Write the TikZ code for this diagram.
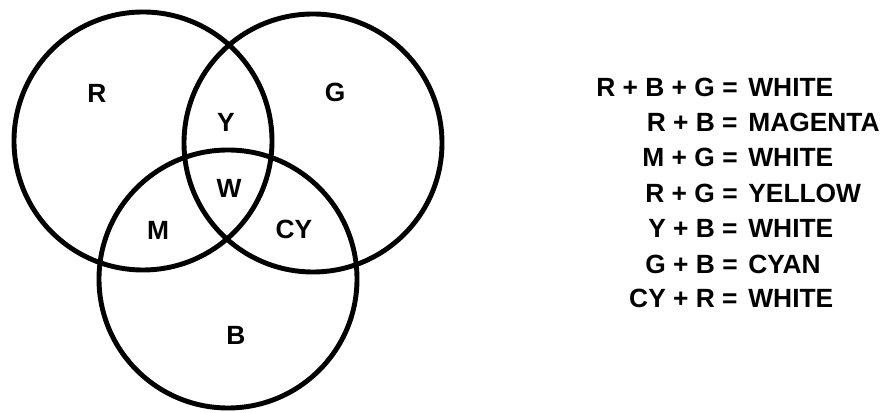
\documentclass[tikz,border=0pt]{standalone}
\usepackage{fontspec}
\setmainfont{Liberation Sans}
\usepackage{tikz}
\usetikzlibrary{positioning}

\begin{document}
\begin{tikzpicture}[
  ring/.style={draw, circle, line width=2.8pt, minimum size=5.16cm, inner sep=0pt},
  area/.style={font=\fontsize{15}{17}\selectfont\bfseries, inner sep=0pt},
  lhs/.style={font=\fontsize{15}{18}\selectfont\bfseries, inner sep=0pt, anchor=base east},
  rhs/.style={font=\fontsize{15}{18}\selectfont\bfseries, inner sep=0pt, anchor=base west},
]
  \useasboundingbox (0,0) rectangle (17.78,8.26);

  % circles
  \node[ring] (red) at (2.86, 5.44) {};
  \node[ring] (green) at (6.26, 5.40) {};
  \node[ring] (blue) at (4.56, 2.68) {};

  % regions
  \node[area] (lR) at (1.94, 6.40) {R};
  \node[area] (lG) at (6.70, 6.42) {G};
  \node[area] (lY) at (4.52, 5.82) {Y};
  \node[area] (lW) at (4.58, 4.50) {W};
  \node[area] (lM) at (3.16, 3.66) {M};
  \node[area] (lCY) at (5.88, 3.68) {CY};
  \node[area] (lB) at (4.72, 1.56) {B};

  % mixing rules
  \node[lhs] (s1) at (14.76, 6.33) {R + B + G =};
  \node[rhs] (t1) at (14.96, 6.33) {WHITE};
  \node[lhs] (s2) at (14.76, 5.63) {R + B =};
  \node[rhs] (t2) at (14.96, 5.63) {MAGENTA};
  \node[lhs] (s3) at (14.76, 4.93) {M + G =};
  \node[rhs] (t3) at (14.96, 4.93) {WHITE};
  \node[lhs] (s4) at (14.76, 4.21) {R + G =};
  \node[rhs] (t4) at (14.96, 4.21) {YELLOW};
  \node[lhs] (s5) at (14.76, 3.51) {Y + B =};
  \node[rhs] (t5) at (14.96, 3.51) {WHITE};
  \node[lhs] (s6) at (14.76, 2.79) {G + B =};
  \node[rhs] (t6) at (14.96, 2.79) {CYAN};
  \node[lhs] (s7) at (14.76, 2.11) {CY + R =};
  \node[rhs] (t7) at (14.96, 2.11) {WHITE};
\end{tikzpicture}
\end{document}
